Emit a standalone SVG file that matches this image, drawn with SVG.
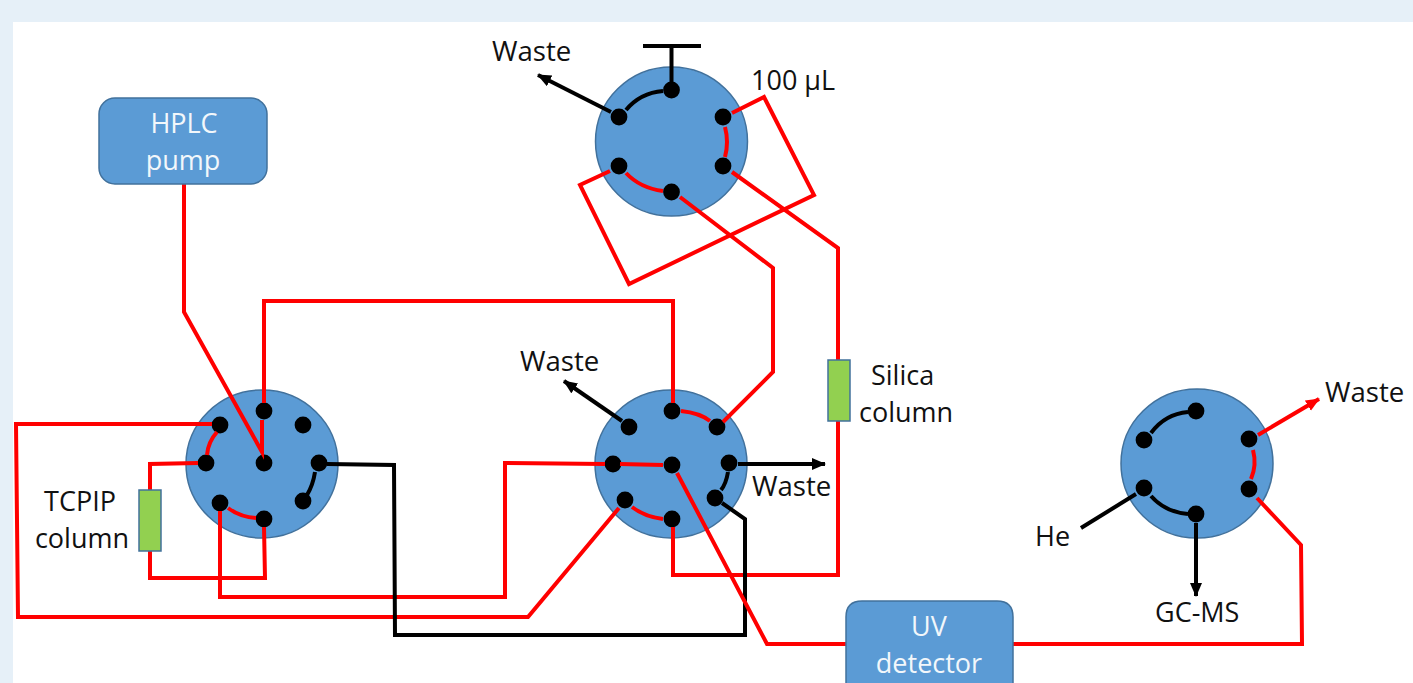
<svg xmlns="http://www.w3.org/2000/svg" width="1413" height="683" viewBox="0 0 1413 683">
<defs>
<marker id="ab" markerUnits="userSpaceOnUse" markerWidth="16" markerHeight="14" refX="13" refY="6" orient="auto"><path d="M0 0L14 6L0 12Z" fill="#000"/></marker>
<marker id="ar" markerUnits="userSpaceOnUse" markerWidth="16" markerHeight="14" refX="13" refY="6" orient="auto"><path d="M0 0L14 6L0 12Z" fill="#f00"/></marker>
</defs>
<style>
.v{fill:#5b9bd5;stroke:#41719c;stroke-width:1.5}
.d{fill:#000}
.r,.k{fill:none;stroke-width:4;stroke-linejoin:miter}
.r{stroke:#f00}.k{stroke:#000}
.c{fill:#92d050;stroke:#41719c;stroke-width:1.5}
.b{fill:#5b9bd5;stroke:#41719c;stroke-width:1.5}
text{font-family:"Open Sans","Noto Sans",sans-serif;font-size:27px;fill:#111}
.w{fill:#f2f7fb;text-anchor:middle}
.m{text-anchor:middle}
.wa{font-size:27.6px}
</style>
<rect width="1413" height="683" fill="#e6f0f8"/>
<rect x="13" y="22" width="1400" height="661" fill="#fff"/>
<g id="valve-top"><ellipse class="v" cx="671.5" cy="141.5" rx="76" ry="74.5"/>
<g class="d"><circle cx="671.5" cy="90" r="8.4"/><circle cx="619" cy="117" r="8.4"/><circle cx="619" cy="166" r="8.4"/><circle cx="671.5" cy="192" r="8.4"/><circle cx="723" cy="117" r="8.4"/><circle cx="723" cy="166" r="8.4"/></g></g>
<g id="valve-left"><ellipse class="v" cx="262" cy="464" rx="76" ry="74"/>
<g class="d"><circle cx="264" cy="411" r="8.4"/><circle cx="220" cy="425" r="8.4"/><circle cx="303" cy="425" r="8.4"/><circle cx="206" cy="463" r="8.4"/><circle cx="264" cy="463" r="8.4"/><circle cx="319" cy="463" r="8.4"/><circle cx="220" cy="503" r="8.4"/><circle cx="303" cy="501" r="8.4"/><circle cx="264" cy="519" r="8.4"/></g></g>
<g id="valve-mid"><ellipse class="v" cx="671" cy="464" rx="76" ry="74"/>
<g class="d"><circle cx="672" cy="411" r="8.4"/><circle cx="629" cy="427" r="8.4"/><circle cx="717" cy="427" r="8.4"/><circle cx="613" cy="464" r="8.4"/><circle cx="672" cy="465" r="8.4"/><circle cx="729" cy="463" r="8.4"/><circle cx="625" cy="500" r="8.4"/><circle cx="715" cy="498" r="8.4"/><circle cx="672" cy="519" r="8.4"/></g></g>
<g id="valve-right"><ellipse class="v" cx="1197" cy="463.5" rx="76" ry="74.5"/>
<g class="d"><circle cx="1196" cy="411" r="8.4"/><circle cx="1144" cy="440" r="8.4"/><circle cx="1249" cy="439" r="8.4"/><circle cx="1144" cy="488" r="8.4"/><circle cx="1196" cy="514" r="8.4"/><circle cx="1249" cy="489" r="8.4"/></g></g>
<g id="connectors">
<path class="r" d="M732 113L764 97L814 195L629 284L580 185L610 171"/>
<path class="r" d="M732 172L838 248V575H673V527"/>
<path class="r" d="M680 197L773 268V372L723 422"/>
<path class="r" d="M725 127Q729 142 725 157"/>
<path class="r" d="M626 173Q640 188 663 191"/>
<path class="k" d="M626 110Q640 93 663 91"/>
<path class="k" d="M643 46H701M671.5 46V82"/>
<path class="k" d="M611 112L538 75" marker-end="url(#ab)"/>
<path class="r" d="M184 184V312L262 452V420M264 403V301H673V403"/>
<path class="r" d="M212 424L16 424L18 617H528L619 508"/>
<path class="r" d="M198 463L150 464V578H265L264 527"/>
<path class="r" d="M220 511L220 597H505V463L605 464M620 464L663 465"/>
<path class="r" d="M217 432Q208 442 207 455"/>
<path class="r" d="M228 508Q240 517 256 518"/>
<path class="k" d="M315 472Q313 485 307 495"/>
<path class="k" d="M327 464L394 465L395 635H745V519L722 503"/>
<path class="r" d="M677 473L767 644H846"/>
<path class="r" d="M1013 644H1302L1301 545L1257 498"/>
<path class="r" d="M681 411Q700 413 710 421"/>
<path class="r" d="M632 507Q645 517 663 519"/>
<path class="k" d="M728 472Q726 484 721 490"/>
<path class="k" d="M622 421L564 381" marker-end="url(#ab)"/>
<path class="k" d="M738 464H825" marker-end="url(#ab)"/>
<path class="r" d="M1258 435L1319 399" marker-end="url(#ar)"/>
<path class="k" d="M1081 528L1136 494"/>
<path class="k" d="M1196 523V596" marker-end="url(#ab)"/>
<path class="k" d="M1151 433Q1165 414 1188 412"/>
<path class="k" d="M1151 496Q1165 512 1188 514"/>
<path class="r" d="M1253 450Q1257 465 1251 479"/>
</g>
<g id="hplc"><rect class="b" x="99" y="98" width="168" height="86" rx="16"/><text class="w" x="184" y="133">HPLC</text><text class="w" x="183" y="170">pump</text></g>
<g id="uv"><path class="b" d="M846 690V617Q846 601 862 601H997Q1013 601 1013 617V690Z"/><text class="w" x="929" y="636">UV</text><text class="w" x="929" y="673">detector</text></g>
<g id="tcpip"><rect class="c" x="139" y="490" width="22" height="61"/><text class="m" x="80" y="511">TCPIP</text><text class="m" x="82" y="548">column</text></g>
<g id="silica"><rect class="c" x="828" y="360" width="22" height="61"/><text x="871" y="385">Silica</text><text x="859" y="422">column</text></g>
<g id="labels">
<text class="wa" x="492" y="61">Waste</text>
<text x="751" y="90">100 µL</text>
<text class="wa" x="520" y="371">Waste</text>
<text class="wa" x="752" y="496">Waste</text>
<text class="wa" x="1325" y="402">Waste</text>
<text x="1035" y="546">He</text>
<text x="1155" y="622">GC-MS</text>
</g>
</svg>
